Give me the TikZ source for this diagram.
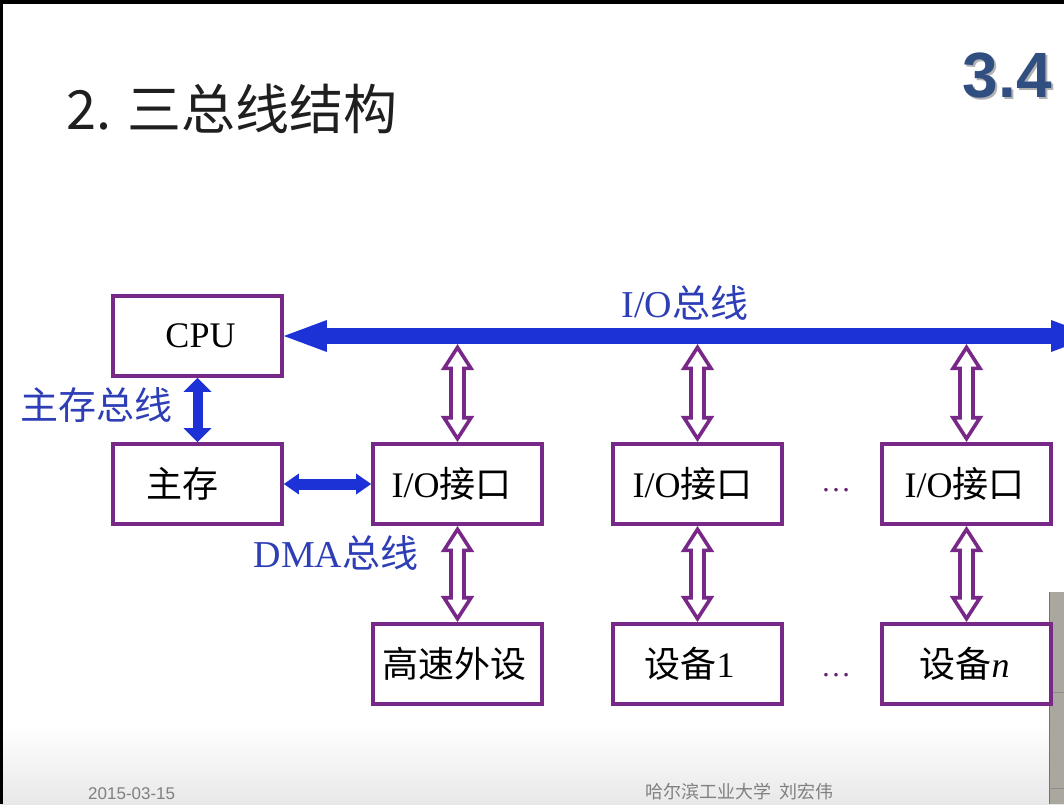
\documentclass[tikz,border=0pt]{standalone}
\usepackage{fontspec}
\setmainfont{Liberation Serif}
\newfontfamily\cjk{Noto Sans CJK SC}
\newfontfamily\arialfont{Liberation Sans}
\usetikzlibrary{arrows.meta,calc}

\definecolor{boxpurple}{RGB}{120,40,135}
\definecolor{busblue}{RGB}{28,50,214}
\definecolor{labelblue}{RGB}{45,62,182}
\definecolor{secblue}{RGB}{48,78,128}
\definecolor{panelgray}{RGB}{170,168,158}

% vertical double-headed hollow arrow between two points
\newcommand\dblhollow[2]{%
  \path (#1) ++(0,3.4) coordinate (ht) (#2) ++(0,-3.4) coordinate (hb);
  \filldraw[hollowarrow] (ht) -- ++(13.5,21) -- ++(-7,0) -- ($(hb)+(6.5,-21)$)
    -- ++(7,0) -- (hb) -- ++(-13.5,-21) -- ++(7,0) -- ($(ht)+(-6.5,21)$)
    -- ++(-7,0) -- cycle;}

\begin{document}
\begin{tikzpicture}[x=1pt,y=-1pt,
  box/.style={draw=boxpurple, line width=3.8pt, minimum width=169pt,
    minimum height=80pt, inner sep=0pt, font=\fontsize{36}{40}\selectfont},
  buslabel/.style={text=labelblue, inner sep=0pt, font=\fontsize{38}{42}\selectfont},
  dotsnode/.style={anchor=base, inner sep=0pt, text=boxpurple!85!black,
    font=\fontsize{30}{34}\selectfont},
  hollowarrow/.style={draw=boxpurple, fill=white, line width=3.6pt, line join=miter},
  busarrow/.style={busblue, line width=16pt,
    >={Triangle[length=43pt,width=32pt,line width=0pt 0 0]}, <->},
  memarrow/.style={busblue, line width=10pt,
    >={Triangle[length=14pt,width=28pt,line width=0pt 0 0]}, <->},
  dmaarrow/.style={busblue, line width=11pt,
    >={Triangle[length=15pt,width=21pt,line width=0pt 0 0]}, <->},
  footer/.style={anchor=base west, inner sep=0pt, text=black!50}
]
\useasboundingbox (0,0) rectangle (1064,804);
\clip (0,0) rectangle (1064,804);
\fill[white] (0,0) rectangle (1064,804);
\shade[top color=white, bottom color=black!9] (0,725) rectangle (1064,804);

% frame edges and the panel at the lower right
\fill[black] (0,0) rectangle (1064,4);
\fill[black] (0,0) rectangle (3,804);
\fill[panelgray] (1049,592) rectangle (1064,804);
\draw[black!55, line width=1.2pt] (1049.6,592) -- (1049.6,804);
\draw[black!45, line width=1pt] (1049,692) -- (1064,692) (1049,788) -- (1064,788);

% headings
\node[anchor=base west, inner sep=0pt, text=black!88,
  font=\cjk\fontsize{54}{60}\selectfont] (title) at (66,129) {2. 三总线结构};
\node[anchor=base east, inner sep=0pt, text=black!30,
  font=\arialfont\bfseries\fontsize{64}{70}\selectfont] at (1054,99) {3.4};
\node[anchor=base east, inner sep=0pt, text=secblue,
  font=\arialfont\bfseries\fontsize{64}{70}\selectfont] (sec) at (1052,97) {3.4};

% units
\node[box] (cpu) at (197.5,336) {\kern6pt CPU};
\node[box] (mem) at (197.5,484) {{\cjk 主存}\kern30pt};
\node[box] (io1) at (457.5,484) {I/O{\cjk 接口}\kern12pt};
\node[box] (io2) at (697.5,484) {I/O{\cjk 接口}\kern10pt};
\node[box] (io3) at (966.5,484) {I/O{\cjk 接口}\kern4pt};
\node[box] (hs)  at (457.5,664) {{\cjk 高速外设}\kern6pt};
\node[box] (d1)  at (697.5,664) {{\cjk 设备}1\kern16pt};
\node[box] (dn)  at (966.5,664) {{\cjk 设备}\textit{n}\kern4pt};

\node[dotsnode] (dots1) at (836,491) {…};
\node[dotsnode] (dots2) at (836,676) {…};

% I/O bus
\coordinate (busend) at (1094,336);
\draw[busarrow] (cpu.east) -- (busend);
\coordinate (tap1) at (457.5,344);
\coordinate (tap2) at (697.5,344);
\coordinate (tap3) at (966.5,344);

% memory bus and DMA bus
\draw[memarrow] (cpu.south) -- (mem.north);
\draw[dmaarrow] (mem.east) -- (io1.west);

% links between the bus, the interfaces and the devices
\dblhollow{tap1}{io1.north}
\dblhollow{tap2}{io2.north}
\dblhollow{tap3}{io3.north}
\dblhollow{io1.south}{hs.north}
\dblhollow{io2.south}{d1.north}
\dblhollow{io3.south}{dn.north}

% bus labels
\node[buslabel] (lbio)  at (685,303) {I/O{\cjk 总线}};
\node[buslabel] (lbmem) at (96,405)  {\cjk 主存总线};
\node[buslabel] (lbdma) at (336,553) {DMA{\cjk 总线}};

% footer
\node[footer, font=\arialfont\fontsize{17}{20}\selectfont] (date) at (88,799) {2015-03-15};
\node[footer, font=\cjk\fontsize{18}{20}\selectfont] (inst) at (645,798) {哈尔滨工业大学\ \ 刘宏伟};
\end{tikzpicture}
\end{document}
